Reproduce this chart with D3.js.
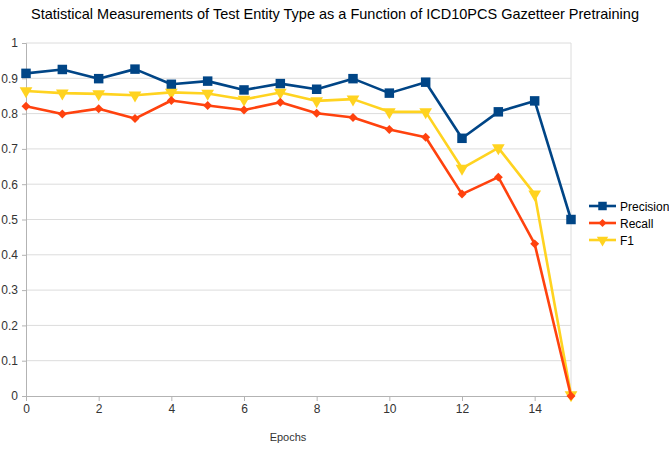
<!DOCTYPE html>
<html>
<head>
<meta charset="utf-8">
<script src="https://cdn.jsdelivr.net/npm/d3@7"></script>
<style>
  body { margin: 0; background: #fff; }
  svg { display: block; font-family: 'Liberation Sans', Arial, sans-serif; }
</style>
</head>
<body>
<div id="chart"></div>
<script>
const epochs = [0, 1, 2, 3, 4, 5, 6, 7, 8, 9, 10, 11, 12, 13, 14, 15]
const precision = [0.914, 0.925, 0.899, 0.926, 0.883, 0.892, 0.867, 0.885, 0.869, 0.899, 0.858, 0.889, 0.730, 0.805, 0.836, 0.500]
const recall = [0.821, 0.799, 0.814, 0.786, 0.837, 0.823, 0.810, 0.832, 0.801, 0.789, 0.755, 0.733, 0.572, 0.620, 0.431, 0.0]
const f1 = [0.864, 0.858, 0.856, 0.852, 0.860, 0.857, 0.840, 0.860, 0.836, 0.841, 0.805, 0.805, 0.645, 0.703, 0.572, 0.003]
const xTicks = [0, 2, 4, 6, 8, 10, 12, 14]
const yTicks = [0, 0.1, 0.2, 0.3, 0.4, 0.5, 0.6, 0.7, 0.8, 0.9, 1]

const series = [
  { name: 'Precision', values: precision, color: '#004586', symbol: d3.symbolSquare, size: 90, rot: 0, order: 0 },
  { name: 'Recall', values: recall, color: '#ff420e', symbol: d3.symbolSquare, size: 40, rot: 45, order: 2 },
  { name: 'F1', values: f1, color: '#ffd320', symbol: d3.symbolTriangle, size: 70, rot: 180, order: 1 }
]

const width = 669, height = 449
const margin = { top: 43, right: 98, bottom: 53, left: 26 }

const svg = d3.select('#chart').append('svg')
    .attr('width', width)
    .attr('height', height)

const x = d3.scaleLinear().domain([0, 15]).range([margin.left, width - margin.right])
const y = d3.scaleLinear().domain([0, 1]).range([height - margin.bottom, margin.top])

// title
svg.append('text')
    .attr('x', 335)
    .attr('y', 19)
    .attr('text-anchor', 'middle')
    .attr('font-size', 14.5)
    .attr('fill', '#000')
    .text('Statistical Measurements of Test Entity Type as a Function of ICD10PCS Gazetteer Pretraining')

// grid
svg.append('g')
    .selectAll('line')
    .data(yTicks.filter(d => d > 0))
    .enter().append('line')
    .attr('x1', x(0)).attr('x2', x(15))
    .attr('y1', d => y(d)).attr('y2', d => y(d))
    .attr('stroke', '#dcdcdc')
    .attr('stroke-width', 1)

svg.append('line')
    .attr('x1', x(15)).attr('x2', x(15))
    .attr('y1', y(0)).attr('y2', y(1))
    .attr('stroke', '#dcdcdc')

// axes
const yAxis = svg.append('g')
    .attr('transform', 'translate(' + margin.left + ',0)')
    .call(d3.axisLeft(y).tickValues(yTicks).tickSize(4).tickPadding(4)
        .tickFormat(d => String(+d.toFixed(1))))
const xAxis = svg.append('g')
    .attr('transform', 'translate(0,' + y(0) + ')')
    .call(d3.axisBottom(x).tickValues(xTicks).tickSize(5).tickPadding(3))

for (const ax of [xAxis, yAxis]) {
  ax.select('.domain').attr('stroke', '#b3b3b3')
  ax.selectAll('.tick line').attr('stroke', '#b3b3b3')
  ax.selectAll('.tick text').attr('fill', '#333').attr('font-size', 12)
      .attr('font-family', "'Liberation Sans', Arial, sans-serif")
}

svg.append('text')
    .attr('x', 288)
    .attr('y', 441)
    .attr('text-anchor', 'middle')
    .attr('font-size', 11)
    .attr('fill', '#333')
    .text('Epochs')

const line = d3.line()
    .x((d, i) => x(epochs[i]))
    .y(d => y(d))

for (const s of series.slice().sort((a, b) => a.order - b.order)) {
  const g = svg.append('g')
  g.append('path')
      .datum(s.values)
      .attr('d', line)
      .attr('fill', 'none')
      .attr('stroke', s.color)
      .attr('stroke-width', 2.6)
      .attr('stroke-linejoin', 'round')
  g.selectAll('path.m')
      .data(s.values)
      .enter().append('path')
      .attr('class', 'm')
      .attr('d', d3.symbol().type(s.symbol).size(s.size))
      .attr('transform', (d, i) => 'translate(' + x(epochs[i]) + ',' + y(d) + ') rotate(' + s.rot + ')')
      .attr('fill', s.color)
}

// legend
const legend = svg.append('g').attr('transform', 'translate(589,206)')
series.forEach((s, i) => {
  const row = legend.append('g').attr('transform', 'translate(0,' + (i * 17) + ')')
  row.append('line')
      .attr('x1', 0).attr('x2', 27)
      .attr('stroke', s.color).attr('stroke-width', 2.6)
  row.append('path')
      .attr('d', d3.symbol().type(s.symbol).size(s.size * 0.8))
      .attr('transform', 'translate(13.5,0) rotate(' + s.rot + ')')
      .attr('fill', s.color)
  row.append('text')
      .attr('x', 31)
      .attr('y', 4.5)
      .attr('font-size', 12)
      .attr('fill', '#000')
      .text(s.name)
})
</script>
</body>
</html>
